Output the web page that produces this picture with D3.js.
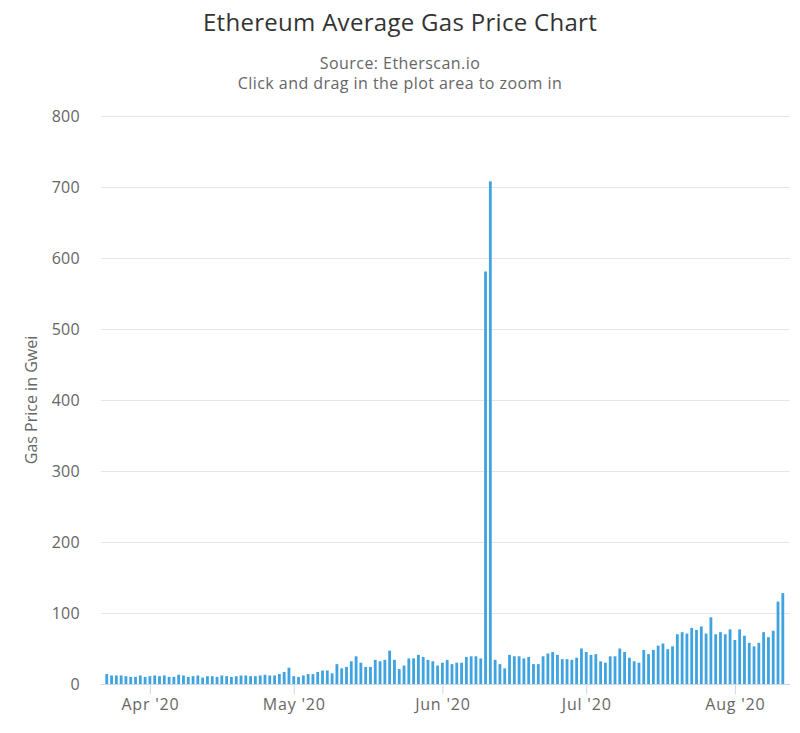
<!DOCTYPE html>
<html>
<head>
<meta charset="utf-8">
<script src="https://cdn.jsdelivr.net/npm/d3@7"></script>
<style>
  html, body { margin: 0; padding: 0; background: #fff; }
  svg { display: block; font-family: "Open Sans", "DejaVu Sans", sans-serif; }
</style>
</head>
<body>
<svg id="chart" width="800" height="733"></svg>
<script>
// ---- Data (daily average gas price, Gwei), starting 2020-03-23 ----
const startDate = "2020-03-23";
const marValues = [14, 12, 12, 12, 11, 10, 10, 12, 10];
const aprValues = [11, 12, 11, 12, 10, 10, 13, 12, 10, 11, 12, 9, 11, 11, 10, 12, 11, 10, 11, 12, 12, 11, 11, 12, 13, 12, 12, 14, 17, 23];
const mayValues = [11, 10, 12, 14, 14, 17, 19, 19, 15, 28, 22, 24, 32, 39, 30, 24, 24, 34, 32, 34, 47, 34, 21, 26, 36, 36, 41, 38, 34, 32, 26];
const junValues = [30, 34, 28, 30, 30, 38, 39, 39, 36, 581, 708, 34, 28, 22, 41, 39, 39, 36, 38, 28, 28, 39, 43, 45, 41, 35, 35, 34, 37, 50];
const julValues = [45, 41, 42, 32, 30, 39, 39, 50, 45, 37, 32, 30, 48, 42, 48, 54, 57, 49, 53, 70, 73, 71, 79, 76, 81, 71, 94, 70, 73, 70, 77];
const augValues = [62, 77, 68, 58, 53, 58, 73, 66, 75, 116, 128];
const yTicks = [0, 100, 200, 300, 400, 500, 600, 700, 800];
const xTickDates = ["2020-04-01", "2020-05-01", "2020-06-01", "2020-07-01", "2020-08-01"];
const titleText = "Ethereum Average Gas Price Chart";
const subtitleLines = ["Source: Etherscan.io", "Click and drag in the plot area to zoom in"];
const yAxisTitle = "Gas Price in Gwei";

// ---- Build series ----
const allValues = [].concat(marValues, aprValues, mayValues, junValues, julValues, augValues);
const DAY = 86400000;
const t0 = Date.parse(startDate + "T00:00:00Z");
const data = allValues.map((v, i) => ({ date: new Date(t0 + i * DAY), value: v }));

// ---- Layout ----
const svg = d3.select("#chart");
const plot = { left: 101, right: 790, top: 116, bottom: 684 };

const x = d3.scaleUtc()
  .domain([new Date(t0 - 1.2 * DAY), new Date(t0 + (allValues.length - 1 + 1.5) * DAY)])
  .range([plot.left, plot.right]);
const y = d3.scaleLinear().domain([0, 800]).range([plot.bottom, plot.top]);

// Title & subtitles
svg.append("text")
  .attr("x", 400).attr("y", 31)
  .attr("text-anchor", "middle")
  .attr("font-size", 24)
  .attr("letter-spacing", 0.3)
  .attr("fill", "#333")
  .text(titleText);
subtitleLines.forEach((s, i) => {
  svg.append("text")
    .attr("x", 400).attr("y", 69 + i * 20)
    .attr("text-anchor", "middle")
    .attr("font-size", 16)
    .attr("letter-spacing", 0.45)
    .attr("fill", "#666")
    .text(s);
});

// Grid lines + y axis (no domain line)
const yAxis = d3.axisLeft(y).tickValues(yTicks).tickSize(0).tickPadding(0);
const gy = svg.append("g").attr("transform", `translate(${plot.left},0)`).call(yAxis);
gy.select(".domain").remove();
gy.selectAll("text")
  .attr("x", -21)
  .attr("dy", "0.35em")
  .attr("font-size", 16)
  .attr("letter-spacing", 0.3)
  .attr("font-family", "\"Open Sans\", sans-serif")
  .attr("fill", "#666");
svg.append("g").selectAll("line").data(yTicks.filter(d => d > 0)).join("line")
  .attr("x1", plot.left).attr("x2", plot.right)
  .attr("y1", d => y(d) + 0.5).attr("y2", d => y(d) + 0.5)
  .attr("stroke", "#e6e6e6").attr("stroke-width", 1);

// Y axis title
svg.append("text")
  .attr("transform", `translate(37,${(plot.top + plot.bottom) / 2}) rotate(-90)`)
  .attr("text-anchor", "middle")
  .attr("font-size", 16)
  .attr("fill", "#666")
  .text(yAxisTitle);

// X axis
const fmt = d3.utcFormat("%b '%y");
const xAxis = d3.axisBottom(x)
  .tickValues(xTickDates.map(d => new Date(d + "T00:00:00Z")))
  .tickFormat(fmt)
  .tickSize(10).tickPadding(5);
const gx = svg.append("g").attr("transform", `translate(0,${plot.bottom})`).call(xAxis);
gx.select(".domain").attr("stroke", "#ccd6eb").attr("d", `M${plot.left},0.5H${plot.right}`);
gx.selectAll(".tick line").attr("stroke", "#ccd6eb");
gx.selectAll(".tick text")
  .attr("font-size", 16)
  .attr("letter-spacing", 0.8)
  .attr("font-family", "\"Open Sans\", sans-serif")
  .attr("fill", "#666");

// Bars
const barW = 2.8;
svg.append("g").selectAll("rect").data(data).join("rect")
  .attr("x", d => x(d.date) - barW / 2)
  .attr("y", d => y(d.value))
  .attr("width", barW)
  .attr("height", d => y(0) - y(d.value))
  .attr("fill", "#3fa3e0");
</script>
</body>
</html>
